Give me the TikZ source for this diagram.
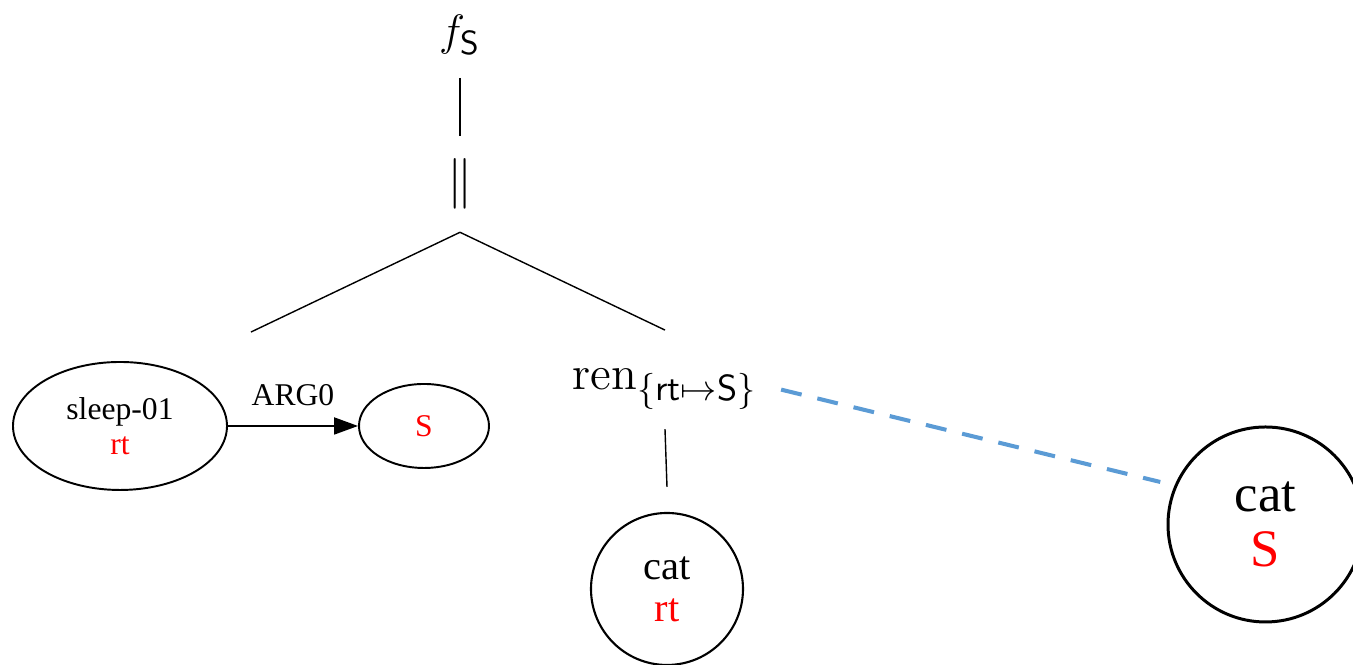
\RequirePackage{fix-cm}
\documentclass[tikz,border=0pt]{standalone}
\usepackage{amsmath}
\usepackage{fontspec}
\usetikzlibrary{arrows.meta, shapes.geometric, fit}
\newfontfamily\gvfont{Liberation Serif}
\newcommand{\gvlabel}[2]{{\gvfont #1}\\{\gvfont\color{red}#2}}
\definecolor{dashblue}{RGB}{91, 155, 213}
\DeclareMathSizes{12.5}{12.5}{9.5}{7}
\DeclareMathSizes{13.5}{13.5}{10.3}{7.5}

\begin{document}
\begin{tikzpicture}[
    tnode/.style={inner sep=0pt, outer ysep=0.23cm, font=\fontsize{12.5}{15}\selectfont},
    gvnode/.style={ellipse, draw, line width=0.55pt, inner sep=0pt, align=center,
      font=\gvfont\fontsize{9}{10}\selectfont},
    amr/.style={circle, draw, inner sep=0pt, align=center}]
  \useasboundingbox (0,0) rectangle (13.53,6.65);

  % derivation tree
  \node[tnode] (fS)  at (4.60, 6.30) {$f_{\mathsf{S}}$};
  \node[tnode, font=\fontsize{14.4}{16}\selectfont] (app) at (4.60, 4.81) {$\|$};
  \node[tnode, anchor=base, text height=10.5pt, text depth=4.6pt, outer xsep=0.24cm,
    font=\fontsize{13.5}{16}\selectfont]
    (ren) at (6.65, 2.75) {$\mathrm{ren}_{\{\mathsf{rt}\mapsto\mathsf{S}\}}$};

  % left graph
  \node[gvnode, minimum width=2.14cm, minimum height=1.28cm] (sleep) at (1.20, 2.39)
    {\gvlabel{sleep-01}{rt}};
  \node[gvnode, minimum width=1.30cm, minimum height=0.84cm] (s1) at (4.24, 2.39)
    {\color{red}S};
  \draw[-{Triangle[length=0.24cm, width=0.17cm]}, line width=0.55pt] (sleep) --
    node[above=2pt, font=\gvfont\fontsize{9}{10}\selectfont]{ARG0} (s1);
  \node[fit=(sleep)(s1), inner sep=0pt, outer ysep=0.29cm] (amr1) {};

  % renamed graph
  \node[amr, minimum size=1.52cm, line width=0.6pt, outer sep=0.26cm,
    font=\fontsize{11.5}{12}\selectfont] (cat1) at (6.67, 0.76)
    {\gvlabel{cat}{rt}};
  \node[amr, minimum size=1.95cm, line width=0.85pt, outer sep=0.16cm,
    font=\fontsize{15}{15.6}\selectfont] (cat2) at (12.655, 1.405)
    {\gvlabel{cat}{S}};

  \draw (fS) -- (app);
  \draw (app.south) -- (amr1.north);
  \draw (app.south) -- (ren.north);
  \draw (ren.south) -- (cat1.north);

  \draw[dashblue, line width=1.15pt, dash pattern=on 6pt off 4.6pt]
    ([yshift=-0.1cm]ren.east) -- (cat2.158);
\end{tikzpicture}
\end{document}
